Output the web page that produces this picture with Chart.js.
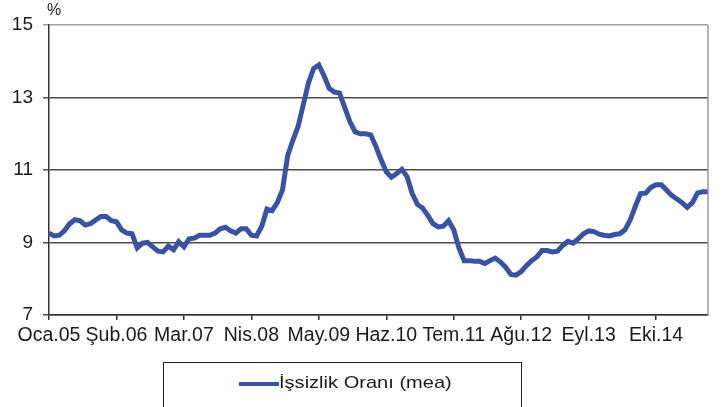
<!DOCTYPE html>
<html>
<head>
<meta charset="utf-8">
<script src="https://cdn.jsdelivr.net/npm/chart.js@4.4.1/dist/chart.umd.min.js"></script>
<style>
  html, body { margin: 0; padding: 0; background: #fff; overflow: hidden; }
  #wrap { position: relative; width: 724px; height: 407px; }
  #legend {
    position: absolute; left: 163px; top: 362px; width: 359px; height: 50px;
    border: 1px solid #222; box-sizing: border-box;
    font-family: "Liberation Sans", Arial, sans-serif; font-size: 17px; color: #1a1a1a;
  }
  #legend .line { position: absolute; left: 75px; top: 19px; width: 40px; height: 4px; background: #3953a4; }
  #legend .txt { position: absolute; left: 115px; top: 10px; white-space: nowrap;
    transform: scaleX(1.18); transform-origin: left center; }
</style>
</head>
<body>
<div id="wrap">
  <canvas id="unemp" width="724" height="407"></canvas>
  <div id="legend"><span class="line"></span><span class="txt">İşsizlik Oranı (mea)</span></div>
</div>
<script>
// aylar ve yillar (Oca.05 - Ağu.15)
var monthNames = ['Oca', 'Şub', 'Mar', 'Nis', 'May', 'Haz', 'Tem', 'Ağu', 'Eyl', 'Eki', 'Kas', 'Ara'];
var years = ['05', '06', '07', '08', '09', '10', '11', '12', '13', '14', '15'];
var labels = [];
years.forEach(function (y) {
  monthNames.forEach(function (m) { labels.push(m + '.' + y); });
});
labels = labels.slice(0, 128);

// mevsimsellikten arindirilmis issizlik orani (%)
var rate = [
  9.26, 9.18, 9.20, 9.33, 9.52, 9.63, 9.60, 9.48, 9.52, 9.62, 9.72, 9.72,
  9.60, 9.57, 9.35, 9.26, 9.24, 8.85, 8.98, 9.00, 8.88, 8.76, 8.74, 8.90,
  8.80, 9.02, 8.88, 9.10, 9.12, 9.20, 9.20, 9.20, 9.26, 9.38, 9.42, 9.32,
  9.26, 9.38, 9.38, 9.20, 9.18, 9.45, 9.92, 9.88, 10.10, 10.45, 11.40, 11.82,
  12.20, 12.80, 13.40, 13.80, 13.90, 13.60, 13.25, 13.15, 13.12, 12.72, 12.33, 12.05,
  12.00, 12.00, 11.97, 11.65, 11.28, 10.95, 10.80, 10.90, 11.02, 10.82, 10.35, 10.05,
  9.95, 9.75, 9.52, 9.43, 9.45, 9.60, 9.35, 8.85, 8.50, 8.50, 8.48, 8.48,
  8.42, 8.50, 8.57, 8.46, 8.32, 8.12, 8.10, 8.20, 8.36, 8.50, 8.60, 8.78,
  8.78, 8.74, 8.76, 8.92, 9.03, 8.98, 9.10, 9.24, 9.32, 9.30, 9.23, 9.20,
  9.18, 9.22, 9.24, 9.35, 9.62, 10.00, 10.35, 10.36, 10.52, 10.59, 10.59, 10.45,
  10.30, 10.20, 10.10, 9.97, 10.10, 10.37, 10.40, 10.40
];

var yTicks = [7, 9, 11, 13, 15];
var labelEvery = 13;

var fontFam = '"Liberation Sans", Arial, sans-serif';

var frame = {
  id: 'frame',
  afterDraw: function (chart) {
    var c = chart.ctx, a = chart.chartArea;
    c.save();
    c.strokeStyle = '#9a9a9a';
    c.lineWidth = 1.5;
    c.beginPath();
    c.moveTo(a.right, a.top);
    c.lineTo(a.right, a.bottom);
    c.stroke();
    c.fillStyle = '#1a1a1a';
    c.font = '16px ' + fontFam;
    c.textAlign = 'left';
    c.textBaseline = 'middle';
    c.fillText('%', a.left - 2, 11);
    c.restore();
  }
};

new Chart(document.getElementById('unemp'), {
  type: 'line',
  data: {
    labels: labels,
    datasets: [{
      label: 'İşsizlik Oranı (mea)',
      data: rate,
      borderColor: '#3953a4',
      borderWidth: 5,
      pointRadius: 0,
      tension: 0,
      fill: false
    }]
  },
  options: {
    responsive: false,
    animation: false,
    layout: { padding: { left: 0, top: 25, right: 16, bottom: 0 } },
    plugins: { legend: { display: false }, tooltip: { enabled: false } },
    scales: {
      x: {
        type: 'category',
        offset: false,
        afterFit: function (s) { s.height = 92; },
        border: { color: '#333', width: 1.5 },
        grid: {
          drawOnChartArea: false,
          tickLength: 5,
          lineWidth: 1.5,
          color: function (ctx) { return ctx.index % labelEvery === 0 ? '#333' : 'rgba(0,0,0,0)'; }
        },
        ticks: {
          autoSkip: false,
          maxRotation: 0,
          minRotation: 0,
          padding: 4,
          color: '#1a1a1a',
          font: { family: fontFam, size: 19.5 },
          callback: function (v, i) { return i % labelEvery === 0 ? labels[i] : ''; }
        }
      },
      y: {
        min: 7,
        max: 15,
        afterFit: function (s) { s.width = 49; },
        afterBuildTicks: function (s) { s.ticks = yTicks.map(function (v) { return { value: v }; }); },
        border: { color: '#333', width: 1.5 },
        grid: {
          tickLength: 6,
          lineWidth: 1.5,
          color: function (ctx) { return ctx.tick && ctx.tick.value === 15 ? '#a0a0a0' : '#4d4d4d'; }
        },
        ticks: {
          padding: 10,
          color: '#1a1a1a',
          font: { family: fontFam, size: 19 }
        }
      }
    }
  },
  plugins: [frame]
});
</script>
</body>
</html>
